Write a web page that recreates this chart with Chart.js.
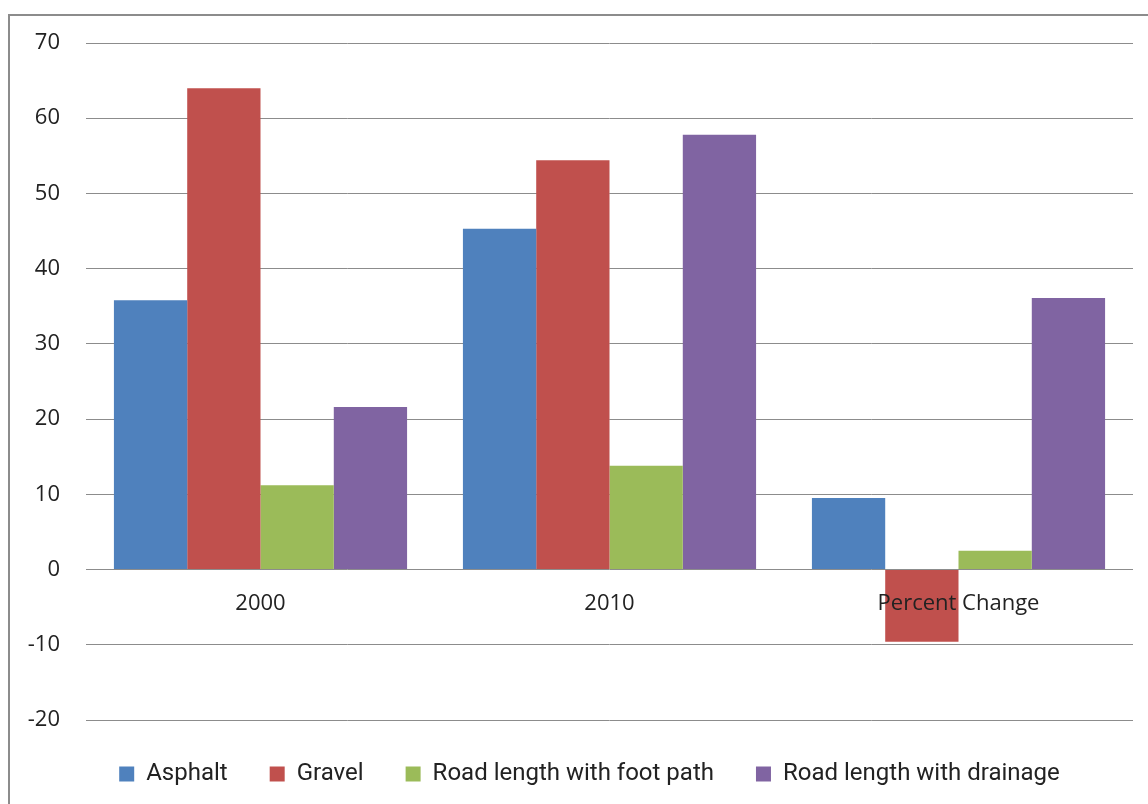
<!DOCTYPE html>
<html>
<head>
<meta charset="utf-8">
<script src="https://cdn.jsdelivr.net/npm/chart.js@4/dist/chart.umd.min.js"></script>
<style>
  html, body { margin: 0; padding: 0; background: #fff; overflow: hidden; }
  #frame { position: absolute; left: 8px; top: 14px; width: 1300px; height: 1000px; border: 2px solid #8c8c8c; }
  #wrap { position: absolute; left: 0; top: 0; width: 1148px; height: 804px; }
</style>
</head>
<body>
<div id="frame"></div>
<div id="wrap"><canvas id="roads"></canvas></div>
<script>
// Road data by period
const periods = ['2000', '2010', 'Percent Change'];
const asphalt = [35.8, 45.3, 9.5];
const gravel = [64.0, 54.4, -9.6];
const footPath = [11.2, 13.8, 2.5];
const drainage = [21.6, 57.8, 36.1];

const seriesNames = ['Asphalt', 'Gravel', 'Road length with foot path', 'Road length with drainage'];
const seriesColors = ['#4F81BD', '#C0504D', '#9BBB59', '#8064A2'];
const seriesValues = [asphalt, gravel, footPath, drainage];

const yTicks = { min: -20, max: 70, step: 10 };

// legend sits a bit right of the canvas centre, like the original
const shiftLegend = {
    id: 'shiftLegend',
    afterLayout(chart) {
        chart.legend.left += 36;
    }
};

let roads = document.getElementById('roads');

let roadsChart = new Chart(roads, {
    type: 'bar',
    data: {
        labels: periods,
        datasets: seriesNames.map((name, i) => ({
            label: name,
            data: seriesValues[i],
            backgroundColor: seriesColors[i],
            borderWidth: 0,
            categoryPercentage: 0.84,
            barPercentage: 1
        }))
    },
    options: {
        responsive: true,
        maintainAspectRatio: false,
        animation: false,
        layout: {
            padding: { left: 10, top: 43, right: 15, bottom: 8 }
        },
        scales: {
            x: {
                position: { y: 0 },
                grid: { display: false, drawTicks: false },
                border: { display: false },
                ticks: {
                    z: 1,
                    color: '#222',
                    padding: 21,
                    font: { family: 'Open Sans', size: 22 }
                }
            },
            y: {
                min: yTicks.min,
                max: yTicks.max,
                afterFit: (scale) => { scale.width = 76; },
                grid: { color: '#8c8c8c', lineWidth: 1, drawTicks: false },
                border: { display: false },
                ticks: {
                    stepSize: yTicks.step,
                    color: '#222',
                    padding: 26,
                    font: { family: 'Open Sans', size: 22 }
                }
            }
        },
        plugins: {
            legend: {
                position: 'bottom',
                labels: {
                    boxWidth: 15,
                    boxHeight: 15,
                    padding: 42,
                    color: '#222',
                    font: { family: 'Roboto', size: 24 }
                }
            },
            tooltip: { enabled: false }
        }
    },
    plugins: [shiftLegend]
});
</script>
</body>
</html>
